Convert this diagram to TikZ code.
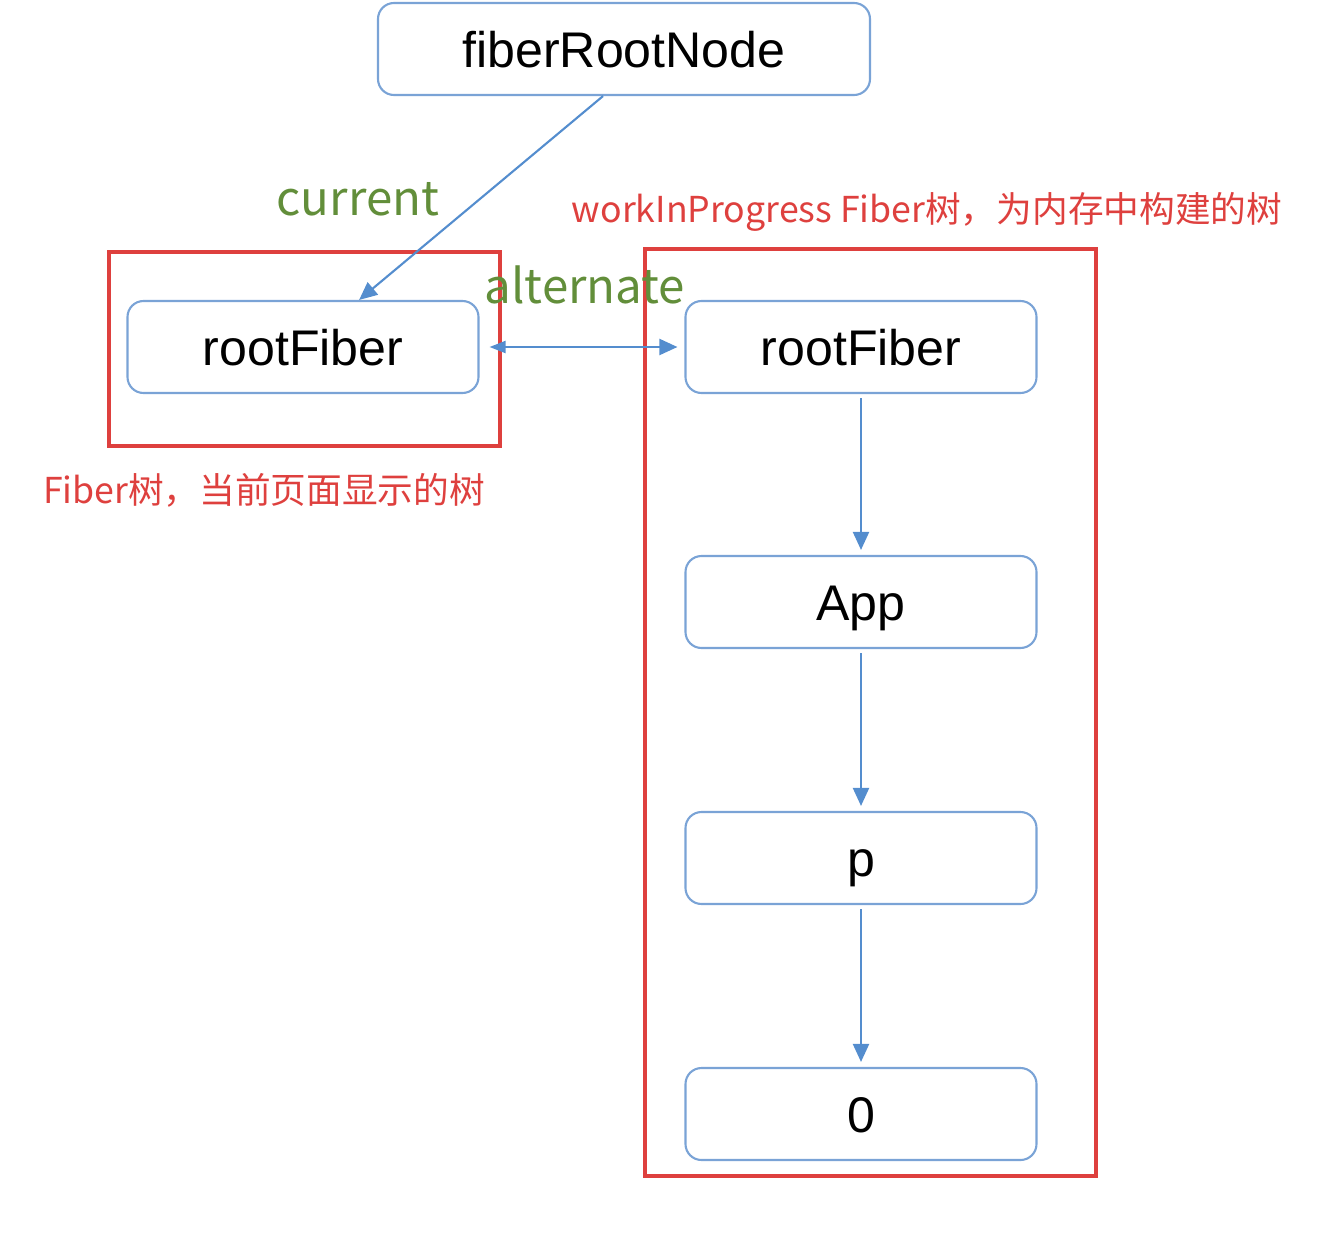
\documentclass[tikz,border=0pt]{standalone}
\usepackage{fontspec}
\setmainfont{Liberation Sans}
\newfontfamily\cjkfont{Noto Sans CJK SC}
\usepackage{tikz}
\usetikzlibrary{arrows.meta,positioning}
\definecolor{nodeblue}{RGB}{122,163,214}
\definecolor{linkblue}{RGB}{84,141,206}
\definecolor{framered}{RGB}{222,64,62}
\definecolor{labelgreen}{RGB}{98,142,58}

\begin{document}
\begin{tikzpicture}[
  fnode/.style={rectangle, rounded corners=0.32cm, draw=nodeblue, line width=1.2pt, minimum width=7.02cm, minimum height=1.84cm, text height=0.74cm, text depth=0cm, font=\fontsize{28.5}{30}\selectfont},
  frame/.style={draw=framered, line width=2.4pt},
  link/.style={draw=linkblue, line width=1.2pt, -{Triangle[length=0.36cm,width=0.32cm]}},
  linklbl/.style={text=labelgreen, font=\cjkfont\fontsize{27}{30}\selectfont},
  treelbl/.style={text=framered, font=\cjkfont\fontsize{20.3}{22}\selectfont}
]
\useasboundingbox (0,0) rectangle (26.44,-24.68);

\node[fnode, minimum width=9.84cm] (root) at (12.48,-0.98) {fiberRootNode};
\node[fnode] (cur) at (6.06,-6.94) {rootFiber};
\node[fnode] (wip) at (17.22,-6.94) {rootFiber};
\node[fnode] (app) at (17.22,-12.04) {App};
\node[fnode] (p) at (17.22,-17.16) {p};
\node[fnode] (z) at (17.22,-22.28) {0};

% the two trees
\draw[frame] (2.18,-5.04) rectangle (10.0,-8.92);
\draw[frame] (12.9,-4.98) rectangle (21.92,-23.52);

\node[linklbl] (curlbl) at (7.16,-3.98) {current};
\node[linklbl] (altlbl) at (11.7,-5.7) {alternate};
\node[treelbl] (wiplbl) at (18.54,-4.24) {workInProgress Fiber树，为内存中构建的树};
\node[treelbl] (curtree) at (5.28,-9.8) {Fiber树，当前页面显示的树};

\draw[link] (root.-114) -- (cur.40);
\draw[link, {Triangle[length=0.32cm,width=0.24cm]}-{Triangle[length=0.36cm,width=0.32cm]}, shorten <=0.2cm, shorten >=0.14cm] (cur.east) -- (wip.west);
\draw[link, shorten <=0.08cm, shorten >=0.1cm] (wip) -- (app);
\draw[link, shorten <=0.08cm, shorten >=0.1cm] (app) -- (p);
\draw[link, shorten <=0.08cm, shorten >=0.1cm] (p) -- (z);
\end{tikzpicture}
\end{document}
